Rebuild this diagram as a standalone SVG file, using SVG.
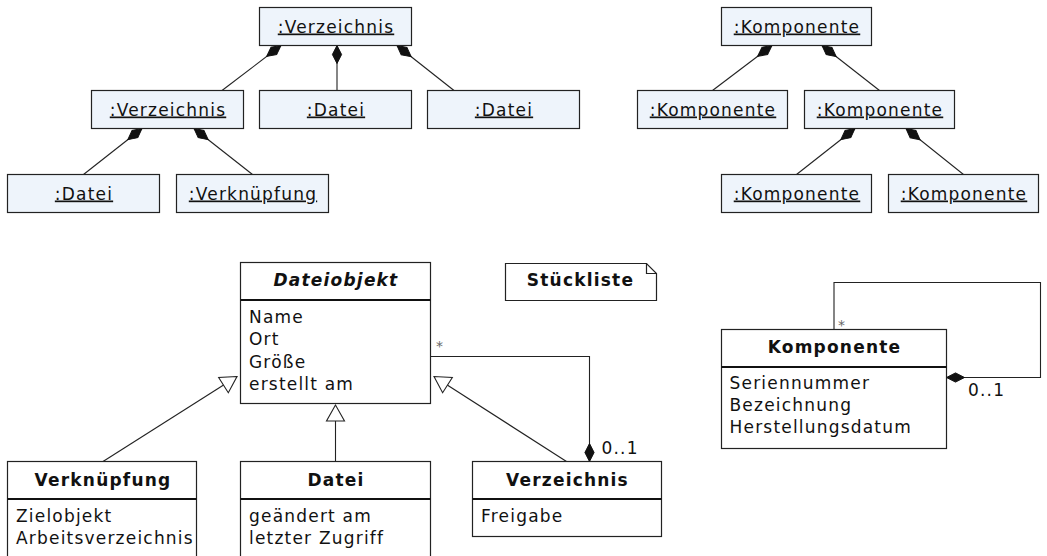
<svg xmlns="http://www.w3.org/2000/svg" width="1047" height="556" viewBox="0 0 1047 556">
  <style>
    text { font-family: "DejaVu Sans", "Liberation Sans", sans-serif; font-size: 17px; letter-spacing: 1.2px; fill: #111; }
    .obj rect { fill: #eef4fb; stroke: #222; stroke-width: 1.2; }
    .obj text { text-anchor: middle; text-decoration: underline; }
    .cls rect, .cls path { fill: #fff; stroke: #222; stroke-width: 1.2; }
    .cls .div { stroke: #111; stroke-width: 2; fill: none; }
    .cls .title { font-weight: bold; text-anchor: middle; }
    .cls .abstract { font-style: italic; }
    .edge { fill: none; stroke: #222; stroke-width: 1.1; }
    .comp { marker-end: url(#diamond); }
    .gen { marker-end: url(#hollow); }
    .mult { letter-spacing: 1.2px; }
    .star { font-size: 14px; fill: #666; letter-spacing: 0; }
  </style>
  <defs>
    <!-- filled diamond: composition end at the whole -->
    <marker id="diamond" markerUnits="userSpaceOnUse" viewBox="-20 -6 22 12" refX="0" refY="0" markerWidth="22" markerHeight="12" orient="auto" overflow="visible">
      <path d="M0,0 L-9,-4.6 L-18,0 L-9,4.6 Z" fill="#111" stroke="#111" stroke-width="1"/>
    </marker>
    <!-- hollow triangle: generalization -->
    <marker id="hollow" markerUnits="userSpaceOnUse" viewBox="-18 -10 20 20" refX="0" refY="0" markerWidth="20" markerHeight="20" orient="auto" overflow="visible">
      <path d="M0,0 L-16,-9 L-16,9 Z" fill="#fff" stroke="#222" stroke-width="1.1"/>
    </marker>
  </defs>

  <!-- connectors -->
  <g id="connectors">
    <!-- directory object tree -->
    <line class="edge comp" x1="222" y1="90.5" x2="281" y2="45.5"/>
    <line class="edge comp" x1="337" y1="90.5" x2="337" y2="45.5"/>
    <line class="edge comp" x1="454" y1="90.5" x2="397" y2="45.5"/>
    <line class="edge comp" x1="83.5" y1="174.5" x2="142" y2="128.5"/>
    <line class="edge comp" x1="252.5" y1="174.5" x2="194" y2="128.5"/>
    <!-- component object tree -->
    <line class="edge comp" x1="712.5" y1="90.5" x2="772" y2="45.5"/>
    <line class="edge comp" x1="879.5" y1="90.5" x2="822" y2="45.5"/>
    <line class="edge comp" x1="796.5" y1="174.5" x2="855" y2="128.5"/>
    <line class="edge comp" x1="963.5" y1="174.5" x2="906" y2="128.5"/>
    <!-- generalizations to Dateiobjekt -->
    <line class="edge gen" x1="103" y1="461.5" x2="237" y2="376.5"/>
    <line class="edge gen" x1="335.5" y1="461.5" x2="335.5" y2="405"/>
    <line class="edge gen" x1="566.5" y1="461.5" x2="434" y2="376.5"/>
    <!-- Verzeichnis contains Dateiobjekte -->
    <polyline class="edge comp" points="430.5,356.5 589.5,356.5 589.5,461.5"/>
    <text class="star" x="436" y="351">*</text>
    <text class="mult" x="601.5" y="453.5">0..1</text>
    <!-- Komponente contains Komponenten -->
    <polyline class="edge comp" points="834,329.5 834,282.5 1040.5,282.5 1040.5,377.5 946.5,377.5"/>
    <text class="star" x="838" y="329.5">*</text>
    <text class="mult" x="968" y="395.5">0..1</text>
  </g>

  <!-- object diagram: directory -->
  <g id="obj-verzeichnis-root" class="obj"><rect x="259.5" y="7.5" width="152" height="38"/><text x="336" y="32.5">:Verzeichnis</text></g>
  <g id="obj-verzeichnis-sub" class="obj"><rect x="91.5" y="90.5" width="152" height="38"/><text x="168" y="115.5">:Verzeichnis</text></g>
  <g id="obj-datei-1" class="obj"><rect x="259.5" y="90.5" width="152" height="38"/><text x="336" y="115.5">:Datei</text></g>
  <g id="obj-datei-2" class="obj"><rect x="427.5" y="90.5" width="152" height="38"/><text x="504" y="115.5">:Datei</text></g>
  <g id="obj-datei-3" class="obj"><rect x="7.5" y="174.5" width="152" height="38"/><text x="84" y="199.5">:Datei</text></g>
  <g id="obj-verknuepfung" class="obj"><rect x="176.5" y="174.5" width="152" height="38"/><text x="253" y="199.5">:Verknüpfung</text></g>

  <!-- object diagram: components -->
  <g id="obj-komponente-root" class="obj"><rect x="721.5" y="7.5" width="150" height="38"/><text x="797" y="32.5">:Komponente</text></g>
  <g id="obj-komponente-a" class="obj"><rect x="637.5" y="90.5" width="150" height="38"/><text x="713" y="115.5">:Komponente</text></g>
  <g id="obj-komponente-b" class="obj"><rect x="804.5" y="90.5" width="150" height="38"/><text x="880" y="115.5">:Komponente</text></g>
  <g id="obj-komponente-c" class="obj"><rect x="721.5" y="174.5" width="150" height="38"/><text x="797" y="199.5">:Komponente</text></g>
  <g id="obj-komponente-d" class="obj"><rect x="888.5" y="174.5" width="150" height="38"/><text x="964" y="199.5">:Komponente</text></g>

  <!-- class diagram: file system -->
  <g id="cls-dateiobjekt" class="cls">
    <rect x="240.5" y="262.5" width="190" height="141"/>
    <line class="div" x1="240.5" y1="300" x2="430.5" y2="300"/>
    <text class="title abstract" x="336" y="286">Dateiobjekt</text>
    <text x="249" y="322.5">Name</text>
    <text x="249" y="345">Ort</text>
    <text x="249" y="367.5">Größe</text>
    <text x="249" y="389.5">erstellt am</text>
  </g>
  <g id="cls-verknuepfung" class="cls">
    <rect x="7.5" y="461.5" width="189" height="100"/>
    <line class="div" x1="7.5" y1="499" x2="196.5" y2="499"/>
    <text class="title" x="103" y="485.5">Verknüpfung</text>
    <text x="16" y="521.5">Zielobjekt</text>
    <text x="16" y="543.5">Arbeitsverzeichnis</text>
  </g>
  <g id="cls-datei" class="cls">
    <rect x="240.5" y="461.5" width="190" height="100"/>
    <line class="div" x1="240.5" y1="499" x2="430.5" y2="499"/>
    <text class="title" x="336" y="485.5">Datei</text>
    <text x="249" y="521.5">geändert am</text>
    <text x="249" y="543.5">letzter Zugriff</text>
  </g>
  <g id="cls-verzeichnis" class="cls">
    <rect x="472.5" y="461.5" width="189" height="75"/>
    <line class="div" x1="472.5" y1="499" x2="661.5" y2="499"/>
    <text class="title" x="567.5" y="485.5">Verzeichnis</text>
    <text x="481" y="521.5">Freigabe</text>
  </g>

  <!-- note -->
  <g id="note-stueckliste" class="cls">
    <path d="M505.5,263.5 H646.5 L656.5,273.5 V300.5 H505.5 Z"/>
    <path d="M646.5,263.5 V273.5 H656.5" style="fill:none"/>
    <text class="title" x="580.5" y="286">Stückliste</text>
  </g>

  <!-- class diagram: bill of materials -->
  <g id="cls-komponente" class="cls">
    <rect x="721.5" y="329.5" width="225" height="119"/>
    <line class="div" x1="721.5" y1="367" x2="946.5" y2="367"/>
    <text class="title" x="834.5" y="352.5">Komponente</text>
    <text x="729.5" y="389">Seriennummer</text>
    <text x="729.5" y="411">Bezeichnung</text>
    <text x="729.5" y="433">Herstellungsdatum</text>
  </g>
</svg>
